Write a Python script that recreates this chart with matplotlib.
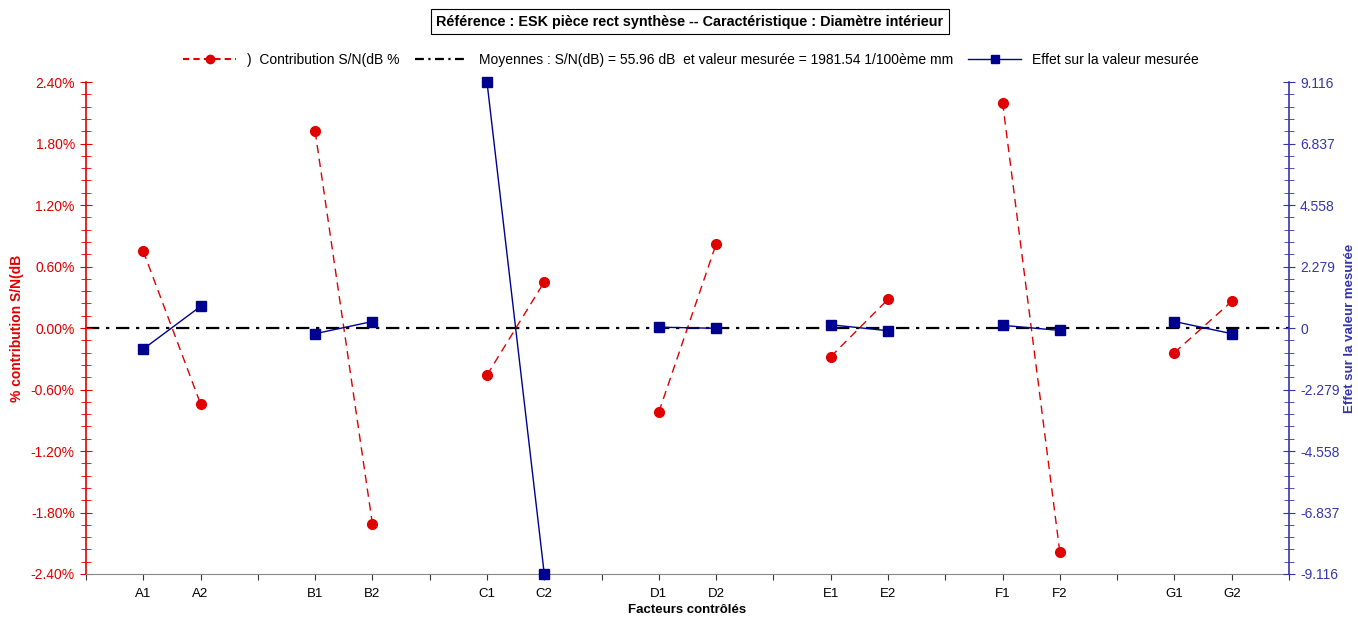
import matplotlib
matplotlib.use("Agg")
import matplotlib.pyplot as plt
import numpy as np
from matplotlib.ticker import FixedLocator, MultipleLocator, FuncFormatter
from matplotlib.lines import Line2D

plt.rcParams['font.family'] = ['Liberation Sans', 'DejaVu Sans']

# Data
groups = ["A", "B", "C", "D", "E", "F", "G"]
level1_labels = ["A1", "B1", "C1", "D1", "E1", "F1", "G1"]
level2_labels = ["A2", "B2", "C2", "D2", "E2", "F2", "G2"]
contrib_1 = [0.75, 1.92, -0.46, -0.82, -0.28, 2.20, -0.24]   # % S/N(dB)
contrib_2 = [-0.74, -1.91, 0.45, 0.82, 0.28, -2.19, 0.26]
effect_1 = [-0.78, -0.21, 9.116, 0.03, 0.12, 0.10, 0.24]    # effect on measured value
effect_2 = [0.80, 0.24, -9.116, -0.01, -0.10, -0.09, -0.21]
right_ticks = [-9.116, -6.837, -4.558, -2.279, 0, 2.279, 4.558, 6.837, 9.116]
right_tick_labels = ["-9.116", "-6.837", "-4.558", "-2.279", "0", "2.279", "4.558", "6.837", "9.116"]

title = "Référence : ESK pièce rect synthèse -- Caractéristique : Diamètre intérieur"
leg_red = ")  Contribution S/N(dB %"
leg_mean = "Moyennes : S/N(dB) = 55.96 dB  et valeur mesurée = 1981.54 1/100ème mm"
leg_blue = "Effet sur la valeur mesurée"

RED = "#E00000"
NAVY = "#000090"
RBLUE = "#3535A8"

fig = plt.figure(figsize=(13.58, 6.19), dpi=100)
ax = fig.add_axes([0.0633, 0.0727, 0.8859, 0.7948])
ax2 = ax.twinx()

x1 = [1 + 3 * i for i in range(len(groups))]
x2 = [2 + 3 * i for i in range(len(groups))]

ax.axhline(0, color="black", lw=1.6, ls=(0, (6, 3, 1.5, 3)), zorder=1)

for i in range(len(groups)):
    ax.plot([x1[i], x2[i]], [contrib_1[i] / 100, contrib_2[i] / 100], color=RED, lw=1,
            ls=(0, (6, 4)), marker="o", ms=7, mec=RED, mfc=RED, zorder=3)
    ax2.plot([x1[i], x2[i]], [effect_1[i], effect_2[i]], color=NAVY, lw=1,
             marker="s", ms=7, mec=NAVY, mfc=NAVY, zorder=3, clip_on=False)

ax.set_xlim(0, 21)
ax.set_ylim(-0.024, 0.024)
ax2.set_ylim(-9.116, 9.116)

# x ticks
ax.xaxis.set_major_locator(FixedLocator(list(range(0, 22))))
labels = [""] * 22
for i in range(len(groups)):
    labels[x1[i]] = level1_labels[i]
    labels[x2[i]] = level2_labels[i]
ax.set_xticklabels(labels)
ax.tick_params(axis="x", direction="out", length=4, color="#333333", labelsize=9.5, pad=6)
ax.set_xlabel("Facteurs contrôlés", fontsize=9.5, fontweight="bold", labelpad=3)

# left y
ax.yaxis.set_major_locator(MultipleLocator(0.006))
ax.yaxis.set_minor_locator(MultipleLocator(0.0012))
ax.yaxis.set_major_formatter(FuncFormatter(lambda v, p: f"{v*100:.2f}%"))
ax.tick_params(axis="y", which="both", direction="inout", color=RED, labelcolor=RED, labelsize=10)
ax.tick_params(axis="y", which="major", length=9)
ax.tick_params(axis="y", which="minor", length=7)
ax.set_ylabel("% contribution S/N(dB", color=RED, fontsize=10, fontweight="bold", labelpad=5)

# right y
ax2.yaxis.set_major_locator(FixedLocator(right_ticks))
ax2.set_yticklabels(right_tick_labels)
ax2.yaxis.set_minor_locator(MultipleLocator(2.279 / 5))
ax2.tick_params(axis="y", which="both", direction="inout", color=RBLUE, labelcolor=RBLUE, labelsize=10)
ax2.tick_params(axis="y", which="major", length=9)
ax2.tick_params(axis="y", which="minor", length=7)
ax2.set_ylabel("Effet sur la valeur mesurée", color=RBLUE, fontsize=9.5, fontweight="bold", labelpad=3)

for a in (ax, ax2):
    a.spines["top"].set_visible(False)
ax.spines["left"].set_color(RED)
ax.spines["right"].set_visible(False)
ax2.spines["left"].set_visible(False)
ax2.spines["bottom"].set_visible(False)
ax2.spines["right"].set_color(RBLUE)
ax2.spines["right"].set_linewidth(1.2)
ax.spines["left"].set_linewidth(1.2)
ax.spines["bottom"].set_color("#888888")

# title
fig.text(0.508, 0.965, title, ha="center", va="center", fontsize=10.4, fontweight="bold",
         bbox=dict(boxstyle="square,pad=0.4", fc="white", ec="black", lw=0.8))

# legend
handles = [
    Line2D([], [], color=RED, lw=1.5, ls=(0, (3, 2)), marker="o", ms=6, mfc=RED, mec=RED),
    Line2D([], [], color="black", lw=1.6, ls=(0, (4, 2, 1, 2))),
    Line2D([], [], color=NAVY, lw=1, marker="s", ms=6, mfc=NAVY, mec=NAVY),
]
fig.legend(handles, [leg_red, leg_mean, leg_blue], loc="center", bbox_to_anchor=(0.509, 0.903),
           ncol=3, frameon=False, fontsize=10, handlelength=3.8, columnspacing=1.1, handletextpad=0.8)

fig.savefig("out.png", dpi=100)
